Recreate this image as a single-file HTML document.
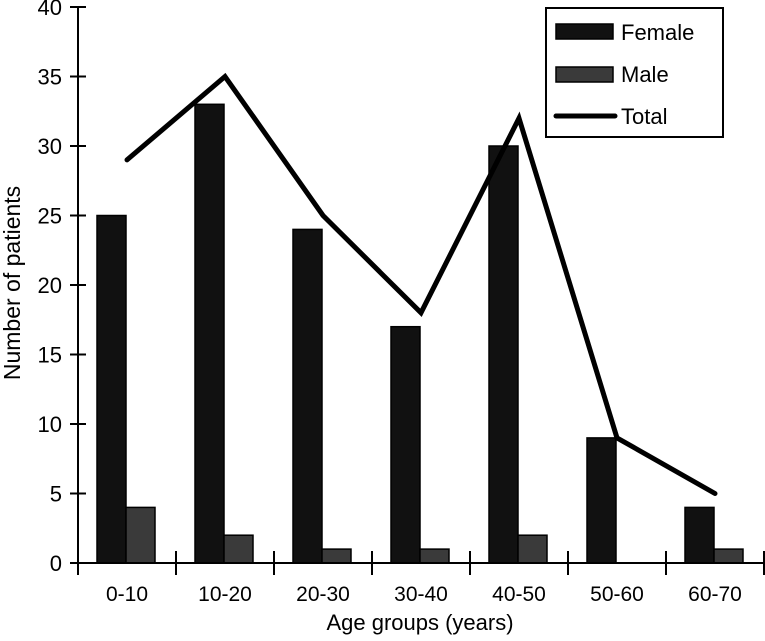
<!DOCTYPE html>
<html><head><meta charset="utf-8"><style>
body{margin:0;background:#fff;}
svg text{font-family:"Liberation Sans",Arial,sans-serif;fill:#000;}
</style></head><body>
<svg id="chart" width="765" height="636" viewBox="0 0 765 636" xmlns="http://www.w3.org/2000/svg"></svg>
<script>
const categories=["0-10","10-20","20-30","30-40","40-50","50-60","60-70"];
const female=[25,33,24,17,30,9,4];
const male=[4,2,1,1,2,0,1];
const total=[29,35,25,18,32,9,5];
const yTicks=[0,5,10,15,20,25,30,35,40];
const svg=document.getElementById('chart');
const NS='http://www.w3.org/2000/svg';
const X0=78,CW=98,Y0=563,YS=13.9;
function y(v){return Y0-v*YS;}
function xc(i){return X0+i*CW;}
function mk(t,a,parent){const e=document.createElementNS(NS,t);for(const k in a)e.setAttribute(k,a[k]);(parent||svg).appendChild(e);return e;}
categories.forEach((c,i)=>{
  let b=mk('rect',{x:xc(i)+19,y:y(female[i]),width:29,height:female[i]*YS,fill:'#111',stroke:'#000','stroke-width':1.5});
  
  
  if(male[i]>0){
  let m=mk('rect',{x:xc(i)+48,y:y(male[i]),width:29,height:male[i]*YS,fill:'#3a3a3a',stroke:'#000','stroke-width':1.5});
  
  }
});
let ya=mk('line',{x1:X0,y1:y(40),x2:X0,y2:Y0,stroke:'#000','stroke-width':2});


yTicks.forEach(v=>{
  mk('line',{x1:X0-8,y1:y(v),x2:X0+8,y2:y(v),stroke:'#000','stroke-width':2});
  let t=mk('text',{x:X0-16,y:y(v)+8,'text-anchor':'end','font-size':22});
  t.textContent=v;
  
  
});
let xa=mk('line',{x1:X0,y1:Y0,x2:765,y2:Y0,stroke:'#000','stroke-width':2});


for(let i=0;i<=categories.length;i++){mk('line',{x1:xc(i),y1:Y0-12,x2:xc(i),y2:Y0+12,stroke:'#000','stroke-width':2});}
categories.forEach((c,i)=>{
  let t=mk('text',{x:xc(i)+CW/2,y:Y0+38,'text-anchor':'middle','font-size':21});
  t.textContent=c;
  
  
});
let pts=total.map((v,i)=>(xc(i)+CW/2)+','+y(v)).join(' ');
let pl=mk('polyline',{points:pts,fill:'none',stroke:'#000','stroke-width':5,'stroke-linejoin':'miter','stroke-linecap':'round'});


let xt=mk('text',{x:420,y:630,'text-anchor':'middle','font-size':22});
xt.textContent='Age groups (years)';


let yt=mk('text',{x:0,y:0,'text-anchor':'middle','font-size':23,transform:'translate(20,283) rotate(-90)'});
yt.textContent='Number of patients';


let lg=mk('g',{});


mk('rect',{x:546,y:8,width:177,height:129,fill:'#fff',stroke:'#000','stroke-width':2},lg);
mk('rect',{x:556,y:24,width:57,height:15,fill:'#111',stroke:'#000','stroke-width':1.5},lg);
mk('rect',{x:556,y:67,width:57,height:15,fill:'#3a3a3a',stroke:'#000','stroke-width':1.5},lg);
mk('line',{x1:556,y1:116,x2:615,y2:116,stroke:'#000','stroke-width':5,'stroke-linecap':'round'},lg);
[['Female',40],['Male',82],['Total',124]].forEach(([s,yy])=>{
  let t=mk('text',{x:621,y:yy,'font-size':22},lg);
  t.textContent=s;
  
  
});
</script>
</body></html>
